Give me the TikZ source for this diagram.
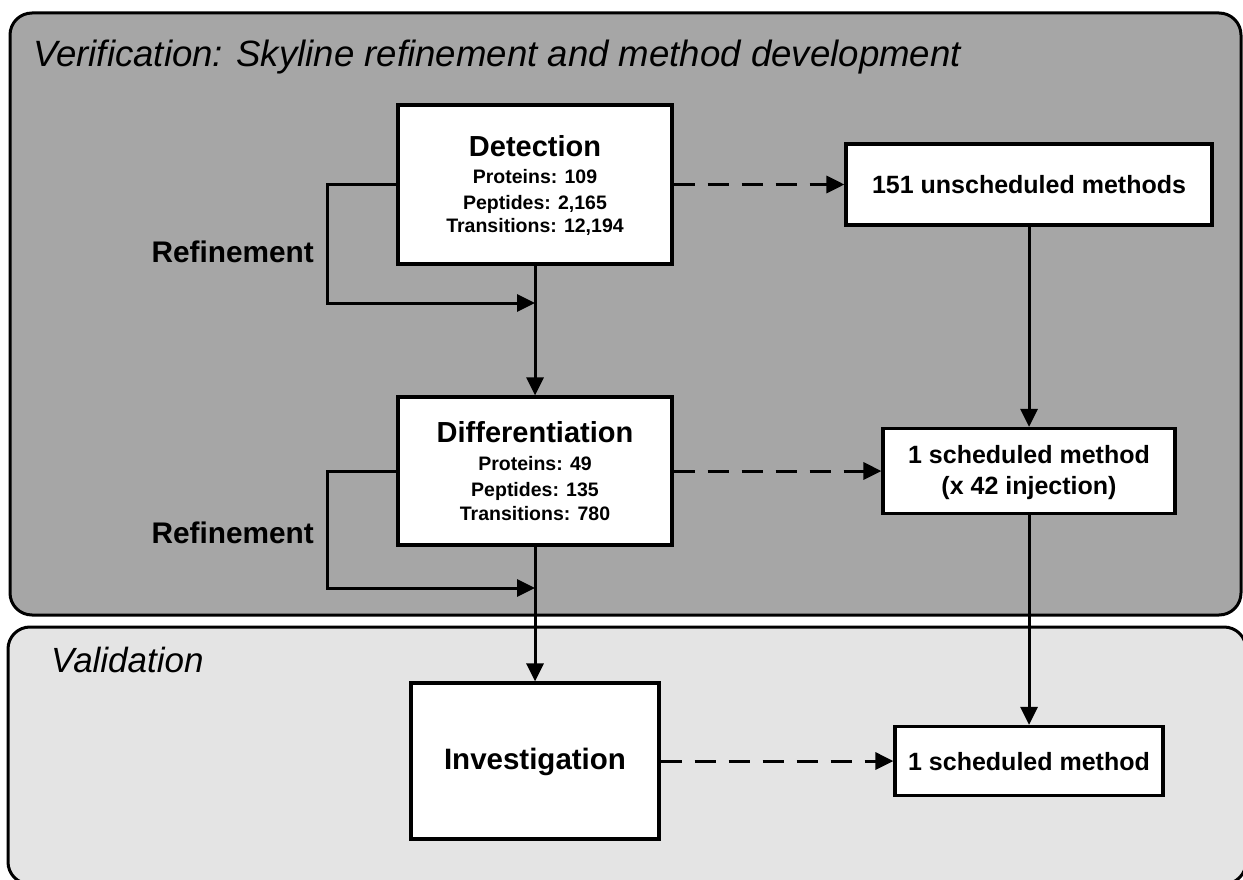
\documentclass[tikz,border=0pt]{standalone}
\usepackage{fontspec}
\setmainfont{Liberation Sans}
\usetikzlibrary{arrows.meta}
\definecolor{darkpanel}{RGB}{166,166,166}
\definecolor{lightpanel}{RGB}{228,228,228}
\begin{document}
\begin{tikzpicture}[x=1pt,y=-1pt,
  panel/.style={draw=black, line width=3pt, rounded corners=22pt},
  box/.style={draw=black, fill=white, line width=3.2pt, inner sep=0pt},
  conn/.style={line width=3pt, -{Triangle[length=18pt,width=17pt]}},
  dconn/.style={conn, dash pattern=on 21pt off 13pt},
  ttl/.style={font=\fontsize{36.6}{42}\selectfont\itshape, anchor=base west, inner sep=0pt},
  big/.style={font=\fontsize{29}{34}\selectfont\bfseries, anchor=base, inner sep=0pt},
  small/.style={font=\fontsize{19.5}{24}\selectfont\bfseries, anchor=base, inner sep=0pt},
  mid/.style={font=\fontsize{25}{30}\selectfont\bfseries, anchor=base, inner sep=0pt},
  lbl/.style={font=\fontsize{29.8}{34}\selectfont\bfseries, anchor=base east, inner sep=0pt},
]
\useasboundingbox (0,0) rectangle (1243,880);
\clip (0,0) rectangle (1243,880);
\fill[white] (0,0) rectangle (1243,880);
\draw[panel, fill=darkpanel] (10,13) rectangle (1241,615);
\draw[panel, fill=lightpanel] (8,627) rectangle (1246,884);

\node[ttl] (t1) at (33,67) {Verification: Skyline refinement and method development};
\node[ttl, font=\fontsize{35}{40}\selectfont\itshape] (t2) at (51,672) {Validation};

% left column boxes
\node[box, minimum width=274pt, minimum height=159pt] (det) at (535,184.5) {};
\node[big] (detA) at (535,157) {Detection};
\node[small] (detB) at (535,184) {Proteins: 109};
\node[small] (detC) at (535,209) {Peptides: 2,165};
\node[small] (detD) at (535,233) {Transitions: 12,194};

\node[box, minimum width=274pt, minimum height=148pt] (diff) at (535,471) {};
\node[big] (difA) at (535,442) {Differentiation};
\node[small] (difB) at (535,470) {Proteins: 49};
\node[small] (difC) at (535,496) {Peptides: 135};
\node[small] (difD) at (535,520) {Transitions: 780};

\node[box, minimum width=248pt, minimum height=156pt] (inv) at (535,761) {};
\node[big, font=\fontsize{29.5}{34}\selectfont\bfseries] (invA) at (535,769) {Investigation};

% right column boxes
\node[box, minimum width=366pt, minimum height=81pt] (uns) at (1029,184.5) {};
\node[mid] (unsA) at (1029,193.5) {151 unscheduled methods};

\node[box, minimum width=292pt, minimum height=85pt] (sch1) at (1029,471) {};
\node[mid] (sch1A) at (1029,463) {1 scheduled method};
\node[mid] (sch1B) at (1029,494) {(x 42 injection)};

\node[box, minimum width=268pt, minimum height=69pt] (sch2) at (1029,761) {};
\node[mid] (sch2A) at (1029,770) {1 scheduled method};

% refinement labels
\node[lbl] (ref1) at (314,262) {Refinement};
\node[lbl] (ref2) at (314,543) {Refinement};

% connectors
\coordinate (c1) at (327,303);
\coordinate (j1) at (535,303);
\coordinate (c2) at (327,588);
\coordinate (j2) at (535,588);
\draw[conn] (det.west) -| (c1) -- (j1);
\draw[conn] (diff.west) -| (c2) -- (j2);
\draw[conn] (det.south) -- (diff.north);
\draw[conn] (diff.south) -- (inv.north);
\draw[dconn] (det.east) -- (uns.west);
\draw[dconn] (diff.east) -- (sch1.west);
\draw[dconn] (inv.east) -- (sch2.west);
\draw[conn] (uns.south) -- (sch1.north);
\draw[conn] (sch1.south) -- (sch2.north);
\end{tikzpicture}
\end{document}
